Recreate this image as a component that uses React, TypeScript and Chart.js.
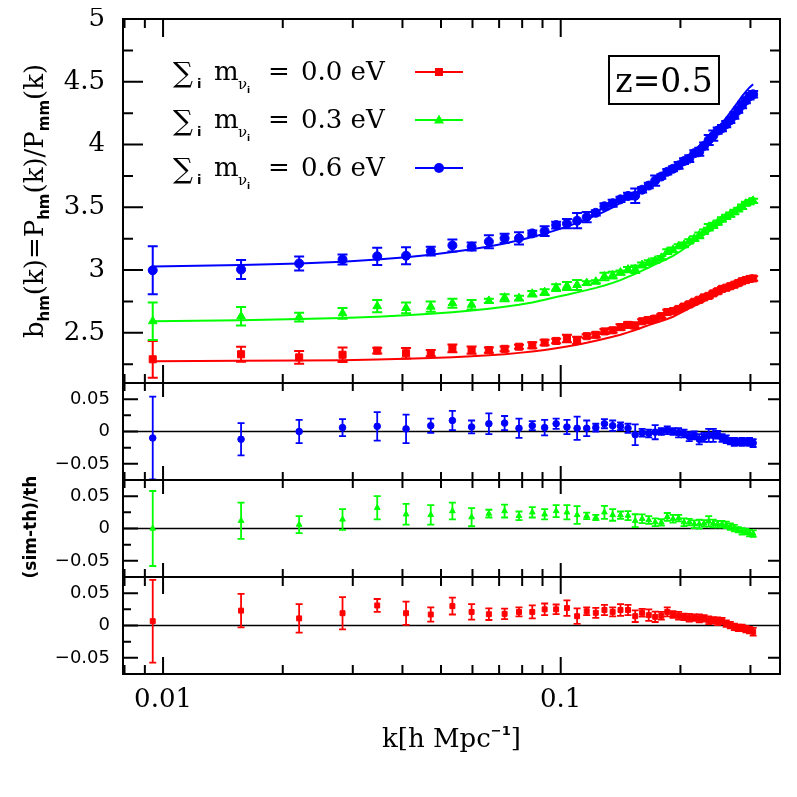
import React, { useEffect, useRef } from 'react';
import { Chart, registerables } from 'chart.js';

Chart.register(...registerables);

// k [h/Mpc]
const kVals = [0.00942, 0.01571, 0.02199, 0.02827, 0.03456, 0.04084, 0.04712, 0.05341, 0.05969, 0.06597, 0.07226, 0.07854, 0.08482, 0.09111, 0.09739, 0.10367, 0.10996, 0.11624, 0.12252, 0.12881, 0.13509, 0.14137, 0.14765, 0.15394, 0.16022, 0.1665, 0.17279, 0.17907, 0.18535, 0.19164, 0.19792, 0.2042, 0.21049, 0.21677, 0.22305, 0.22934, 0.23562, 0.2419, 0.24819, 0.25447, 0.26075, 0.26704, 0.27332, 0.2796, 0.28588, 0.29217, 0.29845, 0.30473];

// theory curves
const thRed = [2.274, 2.277, 2.279, 2.282, 2.287, 2.293, 2.299, 2.306, 2.313, 2.321, 2.33, 2.34, 2.351, 2.363, 2.376, 2.39, 2.405, 2.42, 2.436, 2.452, 2.468, 2.485, 2.503, 2.522, 2.542, 2.561, 2.578, 2.594, 2.61, 2.628, 2.65, 2.673, 2.695, 2.714, 2.733, 2.752, 2.772, 2.792, 2.812, 2.831, 2.85, 2.87, 2.889, 2.906, 2.922, 2.937, 2.95, 2.962];
const thGreen = [2.592, 2.6, 2.609, 2.618, 2.628, 2.64, 2.652, 2.664, 2.677, 2.692, 2.707, 2.723, 2.742, 2.763, 2.785, 2.803, 2.822, 2.84, 2.858, 2.877, 2.898, 2.92, 2.945, 2.97, 2.995, 3.02, 3.045, 3.068, 3.09, 3.113, 3.14, 3.17, 3.198, 3.228, 3.255, 3.28, 3.305, 3.33, 3.356, 3.38, 3.405, 3.432, 3.46, 3.49, 3.52, 3.545, 3.566, 3.58];
const thBlue = [3.028, 3.04, 3.052, 3.066, 3.084, 3.102, 3.122, 3.143, 3.165, 3.188, 3.212, 3.237, 3.263, 3.29, 3.318, 3.347, 3.376, 3.405, 3.435, 3.466, 3.5, 3.535, 3.572, 3.61, 3.648, 3.684, 3.716, 3.745, 3.775, 3.807, 3.842, 3.88, 3.918, 3.955, 3.99, 4.025, 4.06, 4.095, 4.132, 4.172, 4.213, 4.257, 4.3, 4.343, 4.385, 4.422, 4.455, 4.48];

// simulation bias
const simRed = [2.289, 2.329, 2.304, 2.325, 2.358, 2.337, 2.338, 2.375, 2.362, 2.362, 2.372, 2.389, 2.4, 2.422, 2.435, 2.455, 2.44, 2.473, 2.484, 2.511, 2.52, 2.545, 2.563, 2.558, 2.592, 2.602, 2.613, 2.633, 2.665, 2.673, 2.69, 2.709, 2.727, 2.747, 2.763, 2.782, 2.794, 2.814, 2.831, 2.85, 2.859, 2.871, 2.883, 2.896, 2.911, 2.92, 2.929, 2.933];
const simGreen = [2.592, 2.631, 2.625, 2.655, 2.712, 2.698, 2.708, 2.736, 2.724, 2.754, 2.78, 2.776, 2.811, 2.824, 2.86, 2.873, 2.881, 2.896, 2.907, 2.949, 2.959, 2.98, 3.004, 3.006, 3.04, 3.059, 3.075, 3.097, 3.146, 3.16, 3.19, 3.201, 3.229, 3.25, 3.277, 3.306, 3.341, 3.356, 3.378, 3.403, 3.424, 3.442, 3.462, 3.483, 3.504, 3.529, 3.541, 3.551];
const simBlue = [2.998, 3.004, 3.052, 3.084, 3.109, 3.114, 3.15, 3.196, 3.187, 3.226, 3.254, 3.253, 3.292, 3.31, 3.358, 3.37, 3.393, 3.422, 3.456, 3.508, 3.532, 3.563, 3.59, 3.592, 3.64, 3.673, 3.712, 3.745, 3.783, 3.807, 3.834, 3.868, 3.887, 3.931, 3.942, 3.989, 4.036, 4.07, 4.111, 4.13, 4.162, 4.193, 4.231, 4.274, 4.315, 4.351, 4.384, 4.4];

// (sim-th)/th
const resRed = [0.0067, 0.023, 0.011, 0.019, 0.031, 0.019, 0.017, 0.03, 0.021, 0.0175, 0.018, 0.021, 0.021, 0.025, 0.025, 0.027, 0.0144, 0.022, 0.0196, 0.024, 0.021, 0.024, 0.024, 0.0144, 0.0196, 0.016, 0.0134, 0.015, 0.021, 0.017, 0.015, 0.0134, 0.012, 0.012, 0.011, 0.011, 0.008, 0.008, 0.0067, 0.0067, 0.003, 0.0005, -0.002, -0.0036, -0.0036, -0.0057, -0.007, -0.0098];
const resGreen = [0.0, 0.012, 0.006, 0.014, 0.032, 0.022, 0.021, 0.027, 0.0175, 0.023, 0.027, 0.0196, 0.025, 0.022, 0.027, 0.025, 0.021, 0.0196, 0.017, 0.025, 0.021, 0.0206, 0.02, 0.012, 0.015, 0.013, 0.0098, 0.0093, 0.018, 0.015, 0.016, 0.0098, 0.0098, 0.0067, 0.0067, 0.008, 0.011, 0.0077, 0.0067, 0.0067, 0.0057, 0.003, 0.0005, -0.002, -0.0046, -0.0046, -0.007, -0.008];
const resBlue = [-0.01, -0.012, 0.0, 0.006, 0.008, 0.004, 0.009, 0.017, 0.007, 0.012, 0.013, 0.005, 0.009, 0.006, 0.012, 0.007, 0.005, 0.005, 0.006, 0.012, 0.009, 0.008, 0.005, -0.005, -0.002, -0.003, -0.001, 0.0, 0.002, 0.0, -0.002, -0.003, -0.008, -0.006, -0.012, -0.009, -0.006, -0.006, -0.005, -0.01, -0.012, -0.015, -0.016, -0.016, -0.016, -0.016, -0.016, -0.018];

// relative 1-sigma errors
const errRed = [0.064, 0.026, 0.022, 0.025, 0.01, 0.018, 0.011, 0.013, 0.012, 0.009, 0.008, 0.007, 0.01, 0.009, 0.0075, 0.012, 0.012, 0.006, 0.0077, 0.008, 0.007, 0.009, 0.008, 0.009, 0.006, 0.009, 0.008, 0.006, 0.007, 0.005, 0.006, 0.005, 0.006, 0.005, 0.006, 0.005, 0.006, 0.005, 0.006, 0.005, 0.005, 0.005, 0.005, 0.005, 0.005, 0.005, 0.005, 0.006];
const errGreen = [0.058, 0.028, 0.013, 0.016, 0.018, 0.016, 0.015, 0.013, 0.014, 0.006, 0.01, 0.0067, 0.008, 0.008, 0.0093, 0.011, 0.0137, 0.005, 0.004, 0.01, 0.009, 0.0057, 0.007, 0.01, 0.0067, 0.006, 0.006, 0.005, 0.006, 0.006, 0.005, 0.006, 0.005, 0.006, 0.007, 0.005, 0.008, 0.006, 0.005, 0.005, 0.005, 0.005, 0.005, 0.004, 0.005, 0.004, 0.005, 0.005];
const errBlue = [0.064, 0.025, 0.018, 0.013, 0.022, 0.022, 0.011, 0.015, 0.01, 0.016, 0.011, 0.015, 0.007, 0.012, 0.008, 0.011, 0.018, 0.012, 0.006, 0.007, 0.008, 0.006, 0.007, 0.016, 0.006, 0.006, 0.011, 0.005, 0.006, 0.005, 0.007, 0.006, 0.007, 0.006, 0.008, 0.007, 0.01, 0.01, 0.006, 0.006, 0.006, 0.005, 0.006, 0.005, 0.006, 0.005, 0.006, 0.006];

const xTickLabels = [0.01, 0.1];
const xMinorTicks = [0.008, 0.009, 0.02, 0.03, 0.04, 0.05, 0.06, 0.07, 0.08, 0.09, 0.2, 0.3];
const mainTicks = [2.5, 3, 3.5, 4, 4.5, 5];
const mainMinor = [2.25, 2.75, 3.25, 3.75, 4.25, 4.75];
const resTicks = [-0.05, 0, 0.05];
const resMinor = [-0.025, 0.025];
const massLabels = ['0.0', '0.3', '0.6'];
const redshiftLabel = 'z=0.5';

const RED = '#ff0000';
const GREEN = '#00ff00';
const BLUE = '#0000ff';
const SERIF = '"DejaVu Serif", serif';
const SANS = '"DejaVu Sans", sans-serif';

const O = 8; // body margin offset (page -> canvas)

const pts = (ys: number[]) => kVals.map((k, i) => ({ x: k, y: ys[i] }));

function marker(ctx: CanvasRenderingContext2D, style: string, x: number, y: number, s: number, color: string) {
  ctx.fillStyle = color;
  ctx.beginPath();
  if (style === 'rect') {
    ctx.rect(x - s, y - s, 2 * s, 2 * s);
  } else if (style === 'triangle') {
    ctx.moveTo(x, y - s * 1.1);
    ctx.lineTo(x + s, y + s * 0.7);
    ctx.lineTo(x - s, y + s * 0.7);
    ctx.closePath();
  } else {
    ctx.arc(x, y, s, 0, Math.PI * 2);
  }
  ctx.fill();
}

const zeroPad = (s: any) => {
  s.paddingTop = 0;
  s.paddingBottom = 0;
  s.paddingLeft = 0;
  s.paddingRight = 0;
};

const decor = {
  id: 'decor',
  beforeDatasetsDraw(chart: any) {
    const { ctx, chartArea } = chart;
    ctx.save();
    ctx.strokeStyle = '#000';
    ctx.lineWidth = 1.5;
    ['yB', 'yG', 'yR'].forEach((id) => {
      const y0 = chart.scales[id].getPixelForValue(0);
      ctx.beginPath();
      ctx.moveTo(chartArea.left, y0);
      ctx.lineTo(chartArea.right, y0);
      ctx.stroke();
    });
    ctx.restore();
  },
  afterDatasetsDraw(chart: any) {
    const { ctx, chartArea } = chart;
    const xs = chart.scales.x;
    chart.data.datasets.forEach((ds: any) => {
      if (!ds.errs) return;
      const ys = chart.scales[ds.yAxisID];
      ctx.save();
      ctx.beginPath();
      ctx.rect(chartArea.left, ys.top, chartArea.right - chartArea.left, ys.bottom - ys.top);
      ctx.clip();
      ctx.strokeStyle = ds.borderColor;
      ctx.lineWidth = ds.errWidth;
      ds.data.forEach((p: any, i: number) => {
        const e = ds.errs[i];
        const x = xs.getPixelForValue(p.x);
        const y1 = ys.getPixelForValue(p.y - e);
        const y2 = ys.getPixelForValue(p.y + e);
        const c = ds.capW / 2;
        ctx.beginPath();
        ctx.moveTo(x, y1);
        ctx.lineTo(x, y2);
        ctx.moveTo(x - c, y1);
        ctx.lineTo(x + c, y1);
        ctx.moveTo(x - c, y2);
        ctx.lineTo(x + c, y2);
        ctx.stroke();
      });
      ctx.restore();
    });
  },
  afterDraw(chart: any) {
    const { ctx, chartArea } = chart;
    const L = chartArea.left, R = chartArea.right;
    const xs = chart.scales.x;
    ctx.save();
    ctx.strokeStyle = '#000';
    ctx.lineWidth = 2;
    // frame and separators
    ctx.strokeRect(L, chartArea.top, R - L, chartArea.bottom - chartArea.top);
    ['y', 'yB', 'yG'].forEach((id) => {
      const b = chart.scales[id].bottom;
      ctx.beginPath();
      ctx.moveTo(L, b);
      ctx.lineTo(R, b);
      ctx.stroke();
    });
    const panels = [
      { id: 'y', xMaj: 18, xMin: 9, maj: mainTicks, min: mainMinor, lMaj: 20, lMin: 10, rMaj: mainTicks, rMin: mainMinor, rLen: 10 },
      { id: 'yB', xMaj: 14, xMin: 8, maj: resTicks, min: resMinor, lMaj: 15, lMin: 8, rMaj: [-0.05, 0.05], rMin: [], rLen: 12 },
      { id: 'yG', xMaj: 14, xMin: 8, maj: resTicks, min: resMinor, lMaj: 15, lMin: 8, rMaj: [-0.05, 0.05], rMin: [], rLen: 12 },
      { id: 'yR', xMaj: 17, xMin: 9, maj: resTicks, min: resMinor, lMaj: 15, lMin: 8, rMaj: [-0.05, 0.05], rMin: [], rLen: 12 },
    ];
    panels.forEach((p) => {
      const s = chart.scales[p.id];
      const t = s.top, b = s.bottom;
      ctx.beginPath();
      xTickLabels.forEach((v) => {
        const x = xs.getPixelForValue(v);
        ctx.moveTo(x, t); ctx.lineTo(x, t + p.xMaj);
        ctx.moveTo(x, b); ctx.lineTo(x, b - p.xMaj);
      });
      xMinorTicks.forEach((v) => {
        const x = xs.getPixelForValue(v);
        ctx.moveTo(x, t); ctx.lineTo(x, t + p.xMin);
        ctx.moveTo(x, b); ctx.lineTo(x, b - p.xMin);
      });
      p.maj.forEach((v) => {
        const y = s.getPixelForValue(v);
        ctx.moveTo(L, y); ctx.lineTo(L + p.lMaj, y);
      });
      p.min.forEach((v) => {
        const y = s.getPixelForValue(v);
        ctx.moveTo(L, y); ctx.lineTo(L + p.lMin, y);
      });
      p.rMaj.concat(p.rMin).forEach((v) => {
        const y = s.getPixelForValue(v);
        ctx.moveTo(R, y); ctx.lineTo(R - p.rLen, y);
      });
      ctx.stroke();
    });

    // legend
    const rows = [
      { label: massLabels[0], color: RED, style: 'rect', s: 4, base: 80, cy: 72 },
      { label: massLabels[1], color: GREEN, style: 'triangle', s: 5, base: 128, cy: 120 },
      { label: massLabels[2], color: BLUE, style: 'circle', s: 5, base: 176, cy: 168 },
    ];
    ctx.textAlign = 'left';
    ctx.textBaseline = 'alphabetic';
    rows.forEach((r) => {
      const yb = r.base - O;
      ctx.fillStyle = '#000';
      ctx.font = `28px ${SERIF}`;
      ctx.fillText('\u2211', 173 - O, yb + 2);
      ctx.font = `bold 13px ${SANS}`;
      ctx.fillText('i', 197 - O, yb + 8);
      ctx.font = `26px ${SERIF}`;
      ctx.fillText('m', 214 - O, yb);
      ctx.font = `15px ${SERIF}`;
      ctx.fillText('\u03bd', 238 - O, yb + 9);
      ctx.font = `bold 9px ${SANS}`;
      ctx.fillText('i', 247 - O, yb + 13);
      ctx.font = `26px ${SERIF}`;
      ctx.fillText('=', 268 - O, yb);
      ctx.fillText(r.label + ' eV', 301 - O, yb);
      ctx.strokeStyle = r.color;
      ctx.lineWidth = 2;
      ctx.beginPath();
      ctx.moveTo(415 - O, r.cy - O);
      ctx.lineTo(463 - O, r.cy - O);
      ctx.stroke();
      marker(ctx, r.style, 439 - O, r.cy - O, r.s, r.color);
    });

    // z label box
    ctx.strokeStyle = '#000';
    ctx.lineWidth = 2;
    ctx.strokeRect(609 - O, 56 - O, 110, 48);
    ctx.fillStyle = '#000';
    ctx.font = `33px ${SERIF}`;
    ctx.textAlign = 'center';
    ctx.fillText(redshiftLabel, 664 - O, 92 - O);

    // x-axis title
    const big = `26px ${SERIF}`;
    const sup = `bold 13px ${SANS}`;
    const parts = [
      { t: 'k[h Mpc', f: big, dy: 0 },
      { t: '\u22121', f: sup, dy: -12 },
      { t: ']', f: big, dy: 0 },
    ];
    ctx.textAlign = 'left';
    let tw = 0;
    parts.forEach((p) => { ctx.font = p.f; tw += ctx.measureText(p.t).width; });
    let cx = (L + R) / 2 - tw / 2;
    parts.forEach((p) => {
      ctx.font = p.f;
      ctx.fillText(p.t, cx, 747 - O + p.dy);
      cx += ctx.measureText(p.t).width;
    });

    // main y-axis title (rotated)
    const sub = `bold 15px ${SANS}`;
    const yparts = [
      { t: 'b', f: big, dy: 0 },
      { t: 'hm', f: sub, dy: 6 },
      { t: '(k)=P', f: big, dy: 0 },
      { t: 'hm', f: sub, dy: 6 },
      { t: '(k)/P', f: big, dy: 0 },
      { t: 'mm', f: sub, dy: 6 },
      { t: '(k)', f: big, dy: 0 },
    ];
    ctx.save();
    ctx.translate(43 - O, 201 - O);
    ctx.rotate(-Math.PI / 2);
    let yw = 0;
    yparts.forEach((p) => { ctx.font = p.f; yw += ctx.measureText(p.t).width; });
    let yx = -yw / 2;
    yparts.forEach((p) => {
      ctx.font = p.f;
      ctx.fillText(p.t, yx, p.dy);
      yx += ctx.measureText(p.t).width;
    });
    ctx.restore();

    // residual y-axis title
    ctx.save();
    ctx.translate(36 - O, 527 - O);
    ctx.rotate(-Math.PI / 2);
    ctx.font = `bold 17px ${SANS}`;
    ctx.textAlign = 'center';
    ctx.fillText('(sim-th)/th', 0, 0);
    ctx.restore();

    ctx.restore();
  },
};

const resLabel = (v: number) => (v === 0 ? '0' : v < 0 ? '\u2212' + String(-v) : String(v));

function resScale(weight: number) {
  return {
    type: 'linear',
    position: 'left',
    stack: 'panels',
    stackWeight: 97,
    weight,
    min: -0.075,
    max: 0.075,
    afterBuildTicks: (s: any) => { s.ticks = resTicks.map((v) => ({ value: v })); },
    afterFit: (s: any) => { s.width = 115; zeroPad(s); },
    grid: { display: false, drawTicks: false },
    border: { display: false },
    ticks: { autoSkip: false, padding: 13, color: '#000', font: { family: SANS, size: 18 }, callback: (v: any) => resLabel(Number(v)) },
  };
}

export default function App() {
  const ref = useRef<HTMLCanvasElement>(null);
  useEffect(() => {
    if (!ref.current) return;
    const mkSim = (ys: number[], errs: number[], color: string, style: string, r: number) => ({
      data: pts(ys),
      yAxisID: 'y',
      showLine: false,
      pointStyle: style,
      pointRadius: r,
      pointBackgroundColor: color,
      pointBorderColor: color,
      pointBorderWidth: 1,
      borderColor: color,
      errs: ys.map((v, i) => v * errs[i]),
      capW: 10,
      errWidth: 2,
    });
    const mkRes = (ys: number[], errs: number[], color: string, style: string, r: number, axis: string) => ({
      data: pts(ys),
      yAxisID: axis,
      showLine: false,
      pointStyle: style,
      pointRadius: r,
      pointBackgroundColor: color,
      pointBorderColor: color,
      pointBorderWidth: 1,
      borderColor: color,
      errs,
      capW: 7,
      errWidth: 1.8,
    });
    const mkTh = (ys: number[], color: string) => ({
      data: pts(ys),
      yAxisID: 'y',
      showLine: true,
      borderColor: color,
      borderWidth: 2,
      pointRadius: 0,
      tension: 0,
    });
    const chart = new Chart(ref.current, {
      type: 'scatter',
      data: {
        datasets: [
          mkTh(thRed, RED),
          mkTh(thGreen, GREEN),
          mkTh(thBlue, BLUE),
          mkSim(simRed, errRed, RED, 'rect', 5),
          mkSim(simGreen, errGreen, GREEN, 'triangle', 5),
          mkSim(simBlue, errBlue, BLUE, 'circle', 4.5),
          mkRes(resBlue, errBlue, BLUE, 'circle', 3.3, 'yB'),
          mkRes(resGreen, errGreen, GREEN, 'triangle', 3.3, 'yG'),
          mkRes(resRed, errRed, RED, 'rect', 3.5, 'yR'),
        ] as any,
      },
      options: {
        responsive: false,
        animation: false,
        events: [],
        layout: { padding: { top: 11, right: 9, left: 0, bottom: 0 } },
        plugins: { legend: { display: false }, tooltip: { enabled: false } },
        scales: {
          x: {
            type: 'logarithmic',
            position: 'bottom',
            min: 0.00793,
            max: 0.356,
            afterBuildTicks: (s: any) => { s.ticks = xTickLabels.map((v) => ({ value: v })); },
            afterFit: (s: any) => { s.height = 115; zeroPad(s); },
            grid: { display: false, drawTicks: false },
            border: { display: false },
            ticks: { autoSkip: false, maxRotation: 0, padding: 11, color: '#000', font: { family: SERIF, size: 26 }, callback: (v: any) => String(v) },
          },
          y: {
            type: 'linear',
            position: 'left',
            stack: 'panels',
            stackWeight: 364,
            weight: 4,
            min: 2.1,
            max: 5,
            afterBuildTicks: (s: any) => { s.ticks = mainTicks.map((v) => ({ value: v })); },
            afterFit: (s: any) => { s.width = 115; zeroPad(s); },
            grid: { display: false, drawTicks: false },
            border: { display: false },
            ticks: { autoSkip: false, padding: 18, color: '#000', font: { family: SERIF, size: 26 }, callback: (v: any) => String(v) },
          },
          yB: resScale(3),
          yG: resScale(2),
          yR: resScale(1),
        } as any,
      },
      plugins: [decor],
    });
    return () => chart.destroy();
  }, []);
  return (
    <div style={{ width: 781, height: 781 }}>
      <canvas ref={ref} width={781} height={781} />
    </div>
  );
}
